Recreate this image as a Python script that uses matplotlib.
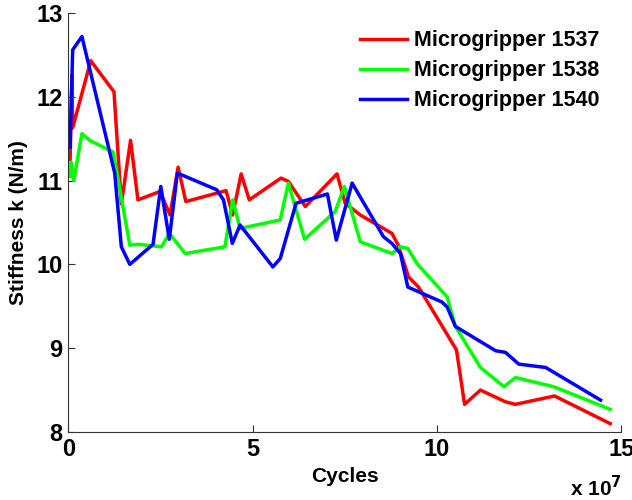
import matplotlib
matplotlib.use("Agg")
import matplotlib.pyplot as plt

plt.rcParams["font.family"] = ["Liberation Sans", "DejaVu Sans"]
plt.rcParams["font.weight"] = "bold"

# === DATA (cycles in units of 1e7, stiffness in N/m) ===
cycles_1537 = [0.05, 0.10, 0.12, 0.61, 1.24, 1.44, 1.69, 1.89, 2.49, 2.76, 2.98, 3.19,
               4.28, 4.46, 4.69, 4.91, 5.77, 5.97, 6.43, 7.29, 7.51, 7.92, 8.78, 8.95,
               9.23, 9.50, 10.53, 10.75, 11.18, 11.86, 12.13, 13.19, 14.70]
stiff_1537 = [11.25, 12.26, 11.63, 12.43, 12.06, 10.72, 11.48, 10.77, 10.87, 10.59, 11.16, 10.75,
              10.88, 10.59, 11.08, 10.77, 11.03, 10.99, 10.69, 11.08, 10.73, 10.59, 10.37, 10.23,
              9.85, 9.73, 8.98, 8.33, 8.50, 8.36, 8.33, 8.43, 8.10]

cycles_1538 = [0.05, 0.08, 0.15, 0.37, 0.58, 1.22, 1.67, 1.90, 2.53, 2.74, 3.17, 4.25,
               4.46, 4.66, 5.75, 5.97, 6.41, 7.24, 7.49, 7.92, 8.78, 9.01, 9.21, 9.46,
               10.28, 10.50, 11.18, 11.82, 12.13, 13.17, 14.70]
stiff_1538 = [11.05, 11.22, 11.00, 11.56, 11.48, 11.34, 10.23, 10.24, 10.21, 10.37, 10.13, 10.21,
              10.77, 10.43, 10.53, 10.97, 10.30, 10.63, 10.93, 10.27, 10.13, 10.21, 10.19, 10.01,
              9.61, 9.26, 8.77, 8.54, 8.65, 8.54, 8.27]

cycles_1540 = [0.05, 0.12, 0.37, 1.26, 1.44, 1.67, 2.30, 2.51, 2.74, 2.96, 4.03, 4.21,
               4.45, 4.66, 5.55, 5.75, 6.18, 7.03, 7.27, 7.70, 8.55, 8.78, 9.01, 9.21,
               10.14, 10.28, 10.50, 11.59, 11.86, 12.22, 12.95, 14.44]
stiff_1540 = [11.40, 12.56, 12.72, 11.09, 10.21, 10.00, 10.24, 10.93, 10.30, 11.09, 10.89, 10.77,
              10.25, 10.47, 9.97, 10.07, 10.73, 10.84, 10.29, 10.97, 10.33, 10.25, 10.13, 9.73,
              9.55, 9.49, 9.26, 8.97, 8.95, 8.81, 8.77, 8.38]

labels = ["Microgripper 1537", "Microgripper 1538", "Microgripper 1540"]
colors = ["#ff0000", "#00ff00", "#0000ff"]

fig = plt.figure(figsize=(6.32, 5.0), dpi=100)
ax = fig.add_axes([0.108, 0.136, 0.875, 0.838])

ax.plot(cycles_1537, stiff_1537, color=colors[0], lw=2.5, label=labels[0])
ax.plot(cycles_1538, stiff_1538, color=colors[1], lw=2.5, label=labels[1])
ax.plot(cycles_1540, stiff_1540, color=colors[2], lw=2.5, label=labels[2])

ax.set_xlim(0, 15)
ax.set_ylim(8, 13)
ax.set_xticks([0, 5, 10, 15])
ax.set_yticks([8, 9, 10, 11, 12, 13])

ax.spines["top"].set_visible(False)
ax.spines["right"].set_visible(False)
for s in ["left", "bottom"]:
    ax.spines[s].set_color("#333333")
    ax.spines[s].set_linewidth(0.8)
ax.tick_params(direction="in", length=5, width=0.8, labelsize=17, colors="#333333",
               labelcolor="black", pad=4)
for lbl in ax.get_xticklabels() + ax.get_yticklabels():
    lbl.set_fontweight("bold")

ax.set_xlabel("Cycles", fontsize=15, fontweight="bold", labelpad=5)
ax.set_ylabel("Stiffness k (N/m)", fontsize=15, fontweight="bold", labelpad=6)

fig.text(0.902, 0.0, r"x 10$^{\mathbf{7}}$", fontsize=15, fontweight="bold", ha="left", va="bottom")

ax.legend(loc="upper right", bbox_to_anchor=(0.955, 0.948), bbox_transform=fig.transFigure,
          frameon=False, handlelength=2.2, handletextpad=0.3, labelspacing=0.42,
          borderaxespad=0.0, borderpad=0.2, prop={"weight": "bold", "size": 15.5})

plt.savefig("out.png", dpi=100)
plt.close()
